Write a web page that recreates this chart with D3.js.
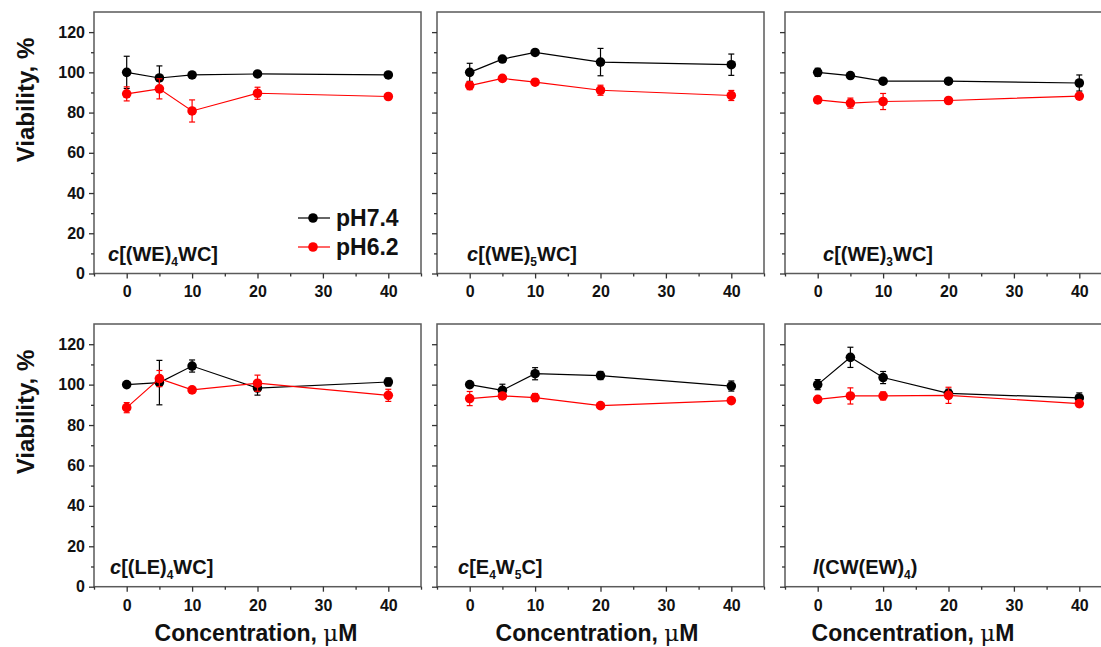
<!DOCTYPE html>
<html><head><meta charset="utf-8">
<script src="https://cdn.jsdelivr.net/npm/d3@7"></script>
<style>body{margin:0;background:#fff}svg{display:block}</style></head>
<body>
<svg id="c" width="1101" height="647"></svg>
<script>
// ---- data ----
const concentrations = [0, 5, 10, 20, 40];
const seriesNames = ["pH7.4", "pH6.2"];
const seriesColors = ["#000000", "#ff0000"];
const panelLabels = [
  [{t:"c",i:1},{t:"[(WE)"},{t:"4",s:1},{t:"WC]"}],
  [{t:"c",i:1},{t:"[(WE)"},{t:"5",s:1},{t:"WC]"}],
  [{t:"c",i:1},{t:"[(WE)"},{t:"3",s:1},{t:"WC]"}],
  [{t:"c",i:1},{t:"[(LE)"},{t:"4",s:1},{t:"WC]"}],
  [{t:"c",i:1},{t:"[E"},{t:"4",s:1},{t:"W"},{t:"5",s:1},{t:"C]"}],
  [{t:"l",i:1},{t:"(CW(EW)"},{t:"4",s:1},{t:")"}]
];
const ph74 = [
  [100, 97.2, 98.7, 99.2, 98.7],
  [100, 106.6, 109.9, 105.1, 103.8],
  [100, 98.4, 95.6, 95.6, 94.7],
  [100, 101, 109.2, 98.3, 101.3],
  [100, 97.2, 105.4, 104.5, 99.3],
  [100, 113.5, 103.5, 95.7, 93.4]
];
const ph74Err = [
  [8, 6, 1, 1, 1],
  [4.5, 1, 1, 6.8, 5.3],
  [2, 1, 1, 1, 4],
  [1, 11, 3, 3.5, 2],
  [1, 3, 3, 2, 2.5],
  [2.5, 5, 3, 2, 2.5]
];
const ph62 = [
  [89.3, 91.8, 80.8, 89.6, 88],
  [93.4, 97, 95.1, 91.1, 88.5],
  [86.3, 84.7, 85.5, 86, 88.2],
  [88.6, 103, 97.4, 100.7, 94.7],
  [93.1, 94.4, 93.6, 89.6, 92.1],
  [92.7, 94.4, 94.4, 94.7, 90.6]
];
const ph62Err = [
  [3.5, 5, 5.5, 3, 1],
  [2, 1, 1.5, 2.5, 2.5],
  [1.5, 2.5, 4, 1.5, 1],
  [2.5, 4, 1, 4, 3],
  [3.5, 1.5, 2, 1, 1],
  [1, 4, 2, 4, 1.5]
];
const xMajorTicks = [0, 10, 20, 30, 40];
const xMinorTicks = [-5, 5, 15, 25, 35, 45];
const yMajorTicks = [0, 20, 40, 60, 80, 100, 120];
const yMinorTicks = [10, 30, 50, 70, 90, 110];
const xTitle = "Concentration, ";
const yTitle = "Viability, %";

// ---- layout ----
const FONT = "'Liberation Sans', Arial, sans-serif";
const svg = d3.select("#c");
const colLeft = [94, 437, 785];
const panelW = 327;
const rowTop = [12, 324];
const panelH = [261.5, 262.7];
const xTitleCenter = [256, 597, 913];
const labelOffset = [14, 30, 38, 16, 21, 28];

for (let p = 0; p < 6; p++) {
  const r = Math.floor(p / 3), c = p % 3;
  const left = colLeft[c], top = rowTop[r], h = panelH[r];
  const x = d3.scaleLinear().domain([-5, 45]).range([left, left + panelW]);
  const y = d3.scaleLinear().domain([0, 130]).range([top + h, top]);
  const g = svg.append("g");

  // frame
  g.append("rect").attr("x", left).attr("y", top).attr("width", panelW).attr("height", h)
    .attr("fill", "none").attr("stroke", "#5a5a5a").attr("stroke-width", 1.5);

  // axes
  const xMin = g.append("g").attr("transform", `translate(0,${top + h})`)
    .call(d3.axisBottom(x).tickValues(xMinorTicks).tickSize(3).tickFormat(""));
  const xMaj = g.append("g").attr("transform", `translate(0,${top + h})`)
    .call(d3.axisBottom(x).tickValues(xMajorTicks).tickSize(5).tickPadding(7.5).tickFormat(d3.format("d")));
  const yMin = g.append("g").attr("transform", `translate(${left},0)`)
    .call(d3.axisLeft(y).tickValues(yMinorTicks).tickSize(3).tickFormat(""));
  const yMaj = g.append("g").attr("transform", `translate(${left},0)`)
    .call(d3.axisLeft(y).tickValues(yMajorTicks).tickSize(5).tickPadding(4)
      .tickFormat(c === 0 ? d3.format("d") : ""));
  [xMin, xMaj, yMin, yMaj].forEach(a => {
    a.select(".domain").remove();
    a.selectAll("line").attr("stroke", "#333").attr("stroke-width", 1.3);
    a.selectAll("text").attr("font-family", FONT).attr("font-weight", "bold")
      .attr("font-size", 16).attr("fill", "#111");
  });

  // series
  const sets = [[ph74[p], ph74Err[p]], [ph62[p], ph62Err[p]]];
  sets.forEach((s, si) => {
    const col = seriesColors[si];
    const pts = concentrations.map((cx, i) => ({x: cx, v: s[0][i], e: s[1][i]}));
    g.append("path").datum(pts)
      .attr("d", d3.line().x(d => x(d.x)).y(d => y(d.v)))
      .attr("fill", "none").attr("stroke", col).attr("stroke-width", 1.2);
    const eb = g.append("g").attr("stroke", col).attr("stroke-width", 1.2);
    pts.forEach(d => {
      eb.append("line").attr("x1", x(d.x)).attr("x2", x(d.x)).attr("y1", y(d.v - d.e)).attr("y2", y(d.v + d.e));
      [d.v - d.e, d.v + d.e].forEach(v => eb.append("line")
        .attr("x1", x(d.x) - 3).attr("x2", x(d.x) + 3).attr("y1", y(v)).attr("y2", y(v)));
    });
    g.selectAll(null).data(pts).enter().append("circle")
      .attr("cx", d => x(d.x)).attr("cy", d => y(d.v)).attr("r", 4.8).attr("fill", col);
  });

  // panel label
  const lt = g.append("text").attr("x", left + labelOffset[p]).attr("y", top + h - 13)
    .attr("font-family", FONT).attr("font-weight", "bold").attr("font-size", 20).attr("fill", "#111");
  panelLabels[p].forEach((part, k) => {
    const ts = lt.append("tspan").text(part.t);
    if (part.i) ts.attr("font-style", "italic");
    if (part.s) ts.attr("font-size", 12).attr("dy", 5);
    else if (k > 0 && panelLabels[p][k - 1].s) ts.attr("dy", -5);
  });

  // legend in first panel
  if (p === 0) {
    seriesNames.forEach((nm, si) => {
      const ly = 218 + si * 29;
      g.append("line").attr("x1", 298).attr("x2", 330).attr("y1", ly).attr("y2", ly)
        .attr("stroke", seriesColors[si]).attr("stroke-width", 1.2);
      g.append("circle").attr("cx", 313).attr("cy", ly).attr("r", 4.8).attr("fill", seriesColors[si]);
      g.append("text").attr("x", 336).attr("y", ly).attr("dy", "0.36em")
        .attr("font-family", FONT).attr("font-weight", "bold").attr("font-size", 23)
        .attr("fill", "#111").text(nm);
    });
  }

  // y title
  if (c === 0) {
    const cy = r === 0 ? 100 : 412;
    svg.append("text").attr("transform", `translate(34,${cy}) rotate(-90)`)
      .attr("text-anchor", "middle").attr("font-family", FONT).attr("font-weight", "bold")
      .attr("font-size", 24).attr("fill", "#111").text(yTitle);
  }
  // x title
  if (r === 1) {
    const t = svg.append("text").attr("x", xTitleCenter[c]).attr("y", 641)
      .attr("text-anchor", "middle").attr("font-family", FONT).attr("font-weight", "bold")
      .attr("font-size", 23).attr("fill", "#111");
    t.append("tspan").text(xTitle);
    t.append("tspan").attr("font-family", "'DejaVu Serif', serif").attr("font-weight", "normal").text("\u03bc");
    t.append("tspan").text("M");
  }
}
</script>
</body></html>
